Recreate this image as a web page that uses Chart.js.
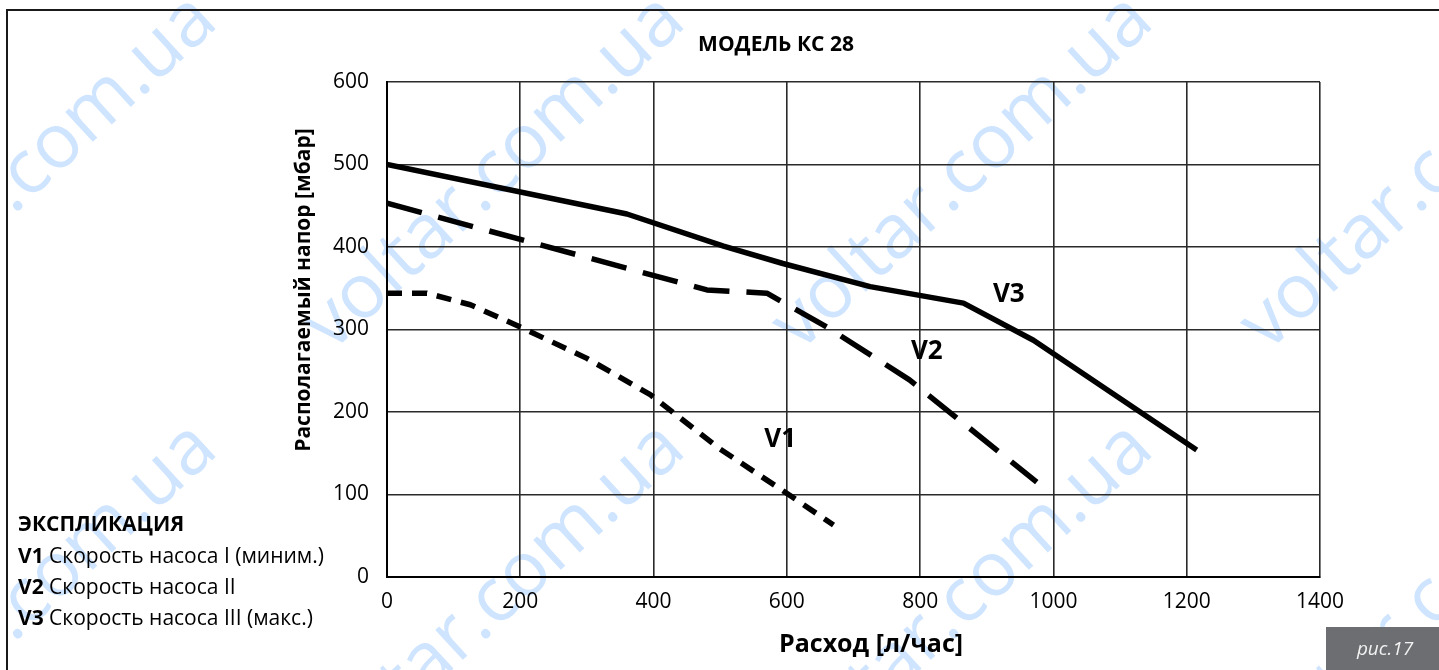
<!DOCTYPE html>
<html>
<head>
<meta charset="utf-8">
<script src="https://cdn.jsdelivr.net/npm/chart.js@4.4.1/dist/chart.umd.min.js"></script>
<style>
  html, body { margin: 0; padding: 0; background: #ffffff; }
  #wrap { width: 1439px; height: 670px; position: relative; }
</style>
</head>
<body>
<div id="wrap"><canvas id="c" width="1439" height="670"></canvas></div>
<script>
// ---- data ----
const xTicks = [0, 200, 400, 600, 800, 1000, 1200, 1400];
const yTicks = [0, 100, 200, 300, 400, 500, 600];

const v1Flow = [0, 60, 125, 200, 300, 395, 500, 597, 670];
const v1Head = [344, 344, 330, 303, 265, 221, 155, 103, 63];

const v2Flow = [0, 480, 570, 660, 784, 850, 975];
const v2Head = [453, 348, 344, 303, 239, 196, 115];

const v3Flow = [0, 360, 505, 594, 725, 865, 970, 1215];
const v3Head = [500, 440, 401, 380, 352, 332, 287, 154];

const seriesNames = ['V1', 'V2', 'V3'];
const labelFlow = [590, 810, 933];
const labelHead = [166, 273, 342];

const titleText = 'МОДЕЛЬ КС 28';
const yTitle = 'Располагаемый напор [мбар]';
const xTitle = 'Расход [л/час]';
const legendTitle = 'ЭКСПЛИКАЦИЯ';
const legendDesc = ['Скорость насоса I (миним.)', 'Скорость насоса II', 'Скорость насоса III (макс.)'];
const figLabel = 'рис.17';
const watermark = 'voltar.com.ua';

const FONT = '"Open Sans", "Noto Sans", sans-serif';

function pts(xs, ys) { return xs.map((x, i) => ({ x: x, y: ys[i] })); }

const decor = {
  id: 'decor',
  beforeDraw(chart) {
    const ctx = chart.ctx;
    ctx.save();
    ctx.fillStyle = '#ffffff';
    ctx.fillRect(0, 0, chart.width, chart.height);
    // watermark lattice
    ctx.fillStyle = 'rgba(30,130,255,0.22)';
    ctx.font = '76px ' + FONT;
    ctx.textAlign = 'center';
    ctx.textBaseline = 'middle';
    const cols = [27, 495, 963, 1431];
    const rows = [173, 601];
    rows.forEach(cy => cols.forEach(cx => {
      ctx.save();
      ctx.translate(cx, cy);
      ctx.rotate(-42.6 * Math.PI / 180);
      ctx.fillText(watermark, 0, 0);
      ctx.restore();
    }));
    ctx.restore();
  },
  afterDraw(chart) {
    const ctx = chart.ctx;
    const xs = chart.scales.x, ys = chart.scales.y;
    ctx.save();
    // outer frame
    ctx.strokeStyle = '#1a1a1a';
    ctx.lineWidth = 2;
    ctx.beginPath();
    ctx.moveTo(7, 670);
    ctx.lineTo(7, 10);
    ctx.lineTo(1439, 10);
    ctx.stroke();

    ctx.fillStyle = '#000';
    // title
    ctx.font = 'bold 21px ' + FONT;
    ctx.textAlign = 'center';
    ctx.textBaseline = 'middle';
    ctx.fillText(titleText, 776, 45);
    // x title
    ctx.font = 'bold 25px ' + FONT;
    ctx.fillText(xTitle, 871, 645);
    // y title
    ctx.save();
    ctx.translate(304, 290);
    ctx.rotate(-Math.PI / 2);
    ctx.font = 'bold 21px ' + FONT;
    ctx.fillText(yTitle, 0, 0);
    ctx.restore();

    // series labels
    ctx.font = 'bold 26px ' + FONT;
    seriesNames.forEach((n, i) => {
      ctx.fillText(n, xs.getPixelForValue(labelFlow[i]), ys.getPixelForValue(labelHead[i]));
    });

    // legend block
    ctx.textAlign = 'left';
    ctx.font = 'bold 21px ' + FONT;
    ctx.fillText(legendTitle, 18, 525);
    const ly = [557, 588, 619];
    seriesNames.forEach((n, i) => {
      ctx.font = 'bold 21px ' + FONT;
      ctx.fillText(n, 18, ly[i]);
      const w = ctx.measureText(n + ' ').width;
      ctx.font = '21px ' + FONT;
      ctx.fillText(legendDesc[i], 18 + w, ly[i]);
    });

    // figure label box
    ctx.fillStyle = '#6d6e71';
    ctx.fillRect(1326, 627, 113, 43);
    ctx.fillStyle = '#f2f2f2';
    ctx.font = 'italic 19px ' + FONT;
    ctx.textAlign = 'center';
    ctx.fillText(figLabel, 1385, 650);
    ctx.restore();
  }
};

const lineBase = { borderColor: '#000', borderWidth: 5.5, pointRadius: 0, fill: false, tension: 0, borderCapStyle: 'butt', borderJoinStyle: 'round' };

new Chart(document.getElementById('c'), {
  type: 'line',
  data: {
    datasets: [
      Object.assign({ label: seriesNames[0], data: pts(v1Flow, v1Head), borderDash: [15, 10] }, lineBase),
      Object.assign({ label: seriesNames[1], data: pts(v2Flow, v2Head), borderDash: [36, 17] }, lineBase),
      Object.assign({ label: seriesNames[2], data: pts(v3Flow, v3Head) }, lineBase)
    ]
  },
  options: {
    responsive: false,
    animation: false,
    devicePixelRatio: 1,
    layout: { padding: { top: 82, right: 119, left: 0, bottom: 0 } },
    plugins: { legend: { display: false }, tooltip: { enabled: false }, title: { display: false } },
    scales: {
      x: {
        type: 'linear', min: 0, max: 1400,
        afterBuildTicks: s => { s.ticks = xTicks.map(v => ({ value: v })); },
        afterFit: s => { s.height = 93; },
        ticks: { font: { family: FONT, size: 21 }, color: '#000', padding: 12, maxRotation: 0, callback: v => String(v) },
        grid: { color: '#2a2a2a', lineWidth: 1.6, drawTicks: false },
        border: { display: true, color: '#000', width: 2 }
      },
      y: {
        type: 'linear', min: 0, max: 600,
        afterBuildTicks: s => { s.ticks = yTicks.map(v => ({ value: v })); },
        afterFit: s => { s.width = 387; },
        ticks: { font: { family: FONT, size: 21 }, color: '#000', padding: 18, callback: v => String(v) },
        grid: { color: '#2a2a2a', lineWidth: 1.6, drawTicks: false },
        border: { display: true, color: '#000', width: 2 }
      }
    }
  },
  plugins: [decor]
});
</script>
</body>
</html>
